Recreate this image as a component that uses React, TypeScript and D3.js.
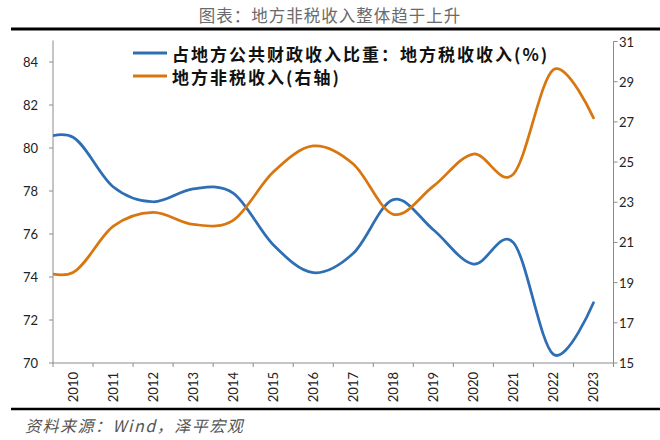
import React from "react";
import * as d3 from "d3";

// Data (2009 is only partly visible at the left edge of the plot)
const years = [2009, 2010, 2011, 2012, 2013, 2014, 2015, 2016, 2017, 2018, 2019, 2020, 2021, 2022, 2023];
const taxShare = [80.3, 80.5, 78.2, 77.5, 78.1, 77.9, 75.5, 74.2, 75.1, 77.6, 76.2, 74.6, 75.6, 70.4, 72.8];
const nonTax = [19.7, 19.5, 21.8, 22.5, 21.9, 22.1, 24.5, 25.8, 24.9, 22.4, 23.8, 25.4, 24.4, 29.6, 27.2];
const labelYears = [2010, 2011, 2012, 2013, 2014, 2015, 2016, 2017, 2018, 2019, 2020, 2021, 2022, 2023];
const leftTicks = [70, 72, 74, 76, 78, 80, 82, 84];
const rightTicks = [15, 17, 19, 21, 23, 25, 27, 29, 31];

const title = "图表：地方非税收入整体趋于上升";
const legendBlue = "占地方公共财政收入比重：地方税收收入(%)";
const legendOrange = "地方非税收入(右轴)";
const source = "资料来源：Wind，泽平宏观";

const BLUE = "#2E6EB5";
const ORANGE = "#D8770F";
const AXIS = "#8c8c8c";
const NUM_FONT = "Lato, 'Open Sans', sans-serif";
const CJK_FONT = "'Noto Sans CJK SC', sans-serif";

export default function App() {
  const left = 53;
  const right = 613.5;
  const bottom = 363;
  const x = d3.scaleLinear().domain([2009.5, 2023.5]).range([left, right]);
  const yL = d3.scaleLinear().domain([70, 85]).range([bottom, 40.5]);
  const yR = d3.scaleLinear().domain([15, 31]).range([bottom, 41.5]);

  const lineL = d3
    .line<number>()
    .x((_, i) => x(years[i]))
    .y((d) => yL(d))
    .curve(d3.curveCatmullRom.alpha(0));
  const lineR = d3
    .line<number>()
    .x((_, i) => x(years[i]))
    .y((d) => yR(d))
    .curve(d3.curveCatmullRom.alpha(0));

  const edges = d3.range(2009.5, 2024, 1);

  return (
    <svg
      width={660}
      height={440}
      style={{ position: "absolute", left: 0, top: 0, background: "#fff" }}
    >
      <defs>
        <clipPath id="plot">
          <rect x={left} y={0} width={right - left} height={440} />
        </clipPath>
      </defs>
      <rect x={0} y={0} width={660} height={440} fill="#fff" />

      {/* title */}
      <text
        x={330}
        y={22}
        textAnchor="middle"
        fontFamily={CJK_FONT}
        fontSize={16.5}
        fill="#6a6a6a"
        letterSpacing={1}
      >
        {title}
      </text>
      <line x1={11} x2={660} y1={29} y2={29} stroke="#000" strokeWidth={3} />

      {/* left axis */}
      <line x1={left} x2={left} y1={yL(85)} y2={bottom} stroke={AXIS} strokeWidth={1} />
      {leftTicks.map((t) => (
        <g key={"l" + t}>
          <line x1={left - 4} x2={left} y1={yL(t)} y2={yL(t)} stroke={AXIS} />
          <text
            x={38}
            y={yL(t)}
            textAnchor="end"
            dominantBaseline="central"
            fontFamily={NUM_FONT}
            fontSize={13}
            fill="#222"
          >
            {t}
          </text>
        </g>
      ))}

      {/* right axis */}
      <line x1={right} x2={right} y1={yR(31)} y2={bottom} stroke={AXIS} strokeWidth={1} />
      {rightTicks.map((t) => (
        <g key={"r" + t}>
          <line x1={right} x2={right + 4} y1={yR(t)} y2={yR(t)} stroke={AXIS} />
          <text
            x={619}
            y={yR(t)}
            textAnchor="start"
            dominantBaseline="central"
            fontFamily={NUM_FONT}
            fontSize={13}
            fill="#222"
          >
            {t}
          </text>
        </g>
      ))}

      {/* bottom axis */}
      <line x1={left} x2={right} y1={bottom} y2={bottom} stroke={AXIS} strokeWidth={1} />
      {edges.map((e) => (
        <line key={"e" + e} x1={x(e)} x2={x(e)} y1={bottom} y2={bottom + 4} stroke={AXIS} />
      ))}
      {labelYears.map((yv) => (
        <text
          key={"y" + yv}
          transform={`translate(${x(yv)},${372}) rotate(-90)`}
          textAnchor="end"
          dominantBaseline="central"
          fontFamily={NUM_FONT}
          fontSize={13}
          fill="#222"
        >
          {yv}
        </text>
      ))}

      {/* series */}
      <g clipPath="url(#plot)">
        <path d={lineL(taxShare) || ""} fill="none" stroke={BLUE} strokeWidth={2.75} strokeLinecap="round" />
        <path d={lineR(nonTax) || ""} fill="none" stroke={ORANGE} strokeWidth={2.75} strokeLinecap="round" />
      </g>

      {/* legend */}
      <line x1={133} x2={167} y1={53} y2={53} stroke={BLUE} strokeWidth={3} />
      <text
        x={172}
        y={53}
        dominantBaseline="central"
        fontFamily={CJK_FONT}
        fontWeight="bold"
        fontSize={17}
        letterSpacing={2}
        fill="#111"
      >
        {legendBlue}
      </text>
      <line x1={133} x2={167} y1={76} y2={76} stroke={ORANGE} strokeWidth={3} />
      <text
        x={172}
        y={76}
        dominantBaseline="central"
        fontFamily={CJK_FONT}
        fontWeight="bold"
        fontSize={17}
        letterSpacing={2}
        fill="#111"
      >
        {legendOrange}
      </text>

      {/* footer */}
      <line x1={11} x2={660} y1={409} y2={409} stroke="#000" strokeWidth={2.5} />
      <text
        x={25}
        y={432}
        fontFamily={CJK_FONT}
        fontStyle="italic"
        fontSize={16}
        letterSpacing={1.5}
        fill="#555"
      >
        {source}
      </text>
    </svg>
  );
}
